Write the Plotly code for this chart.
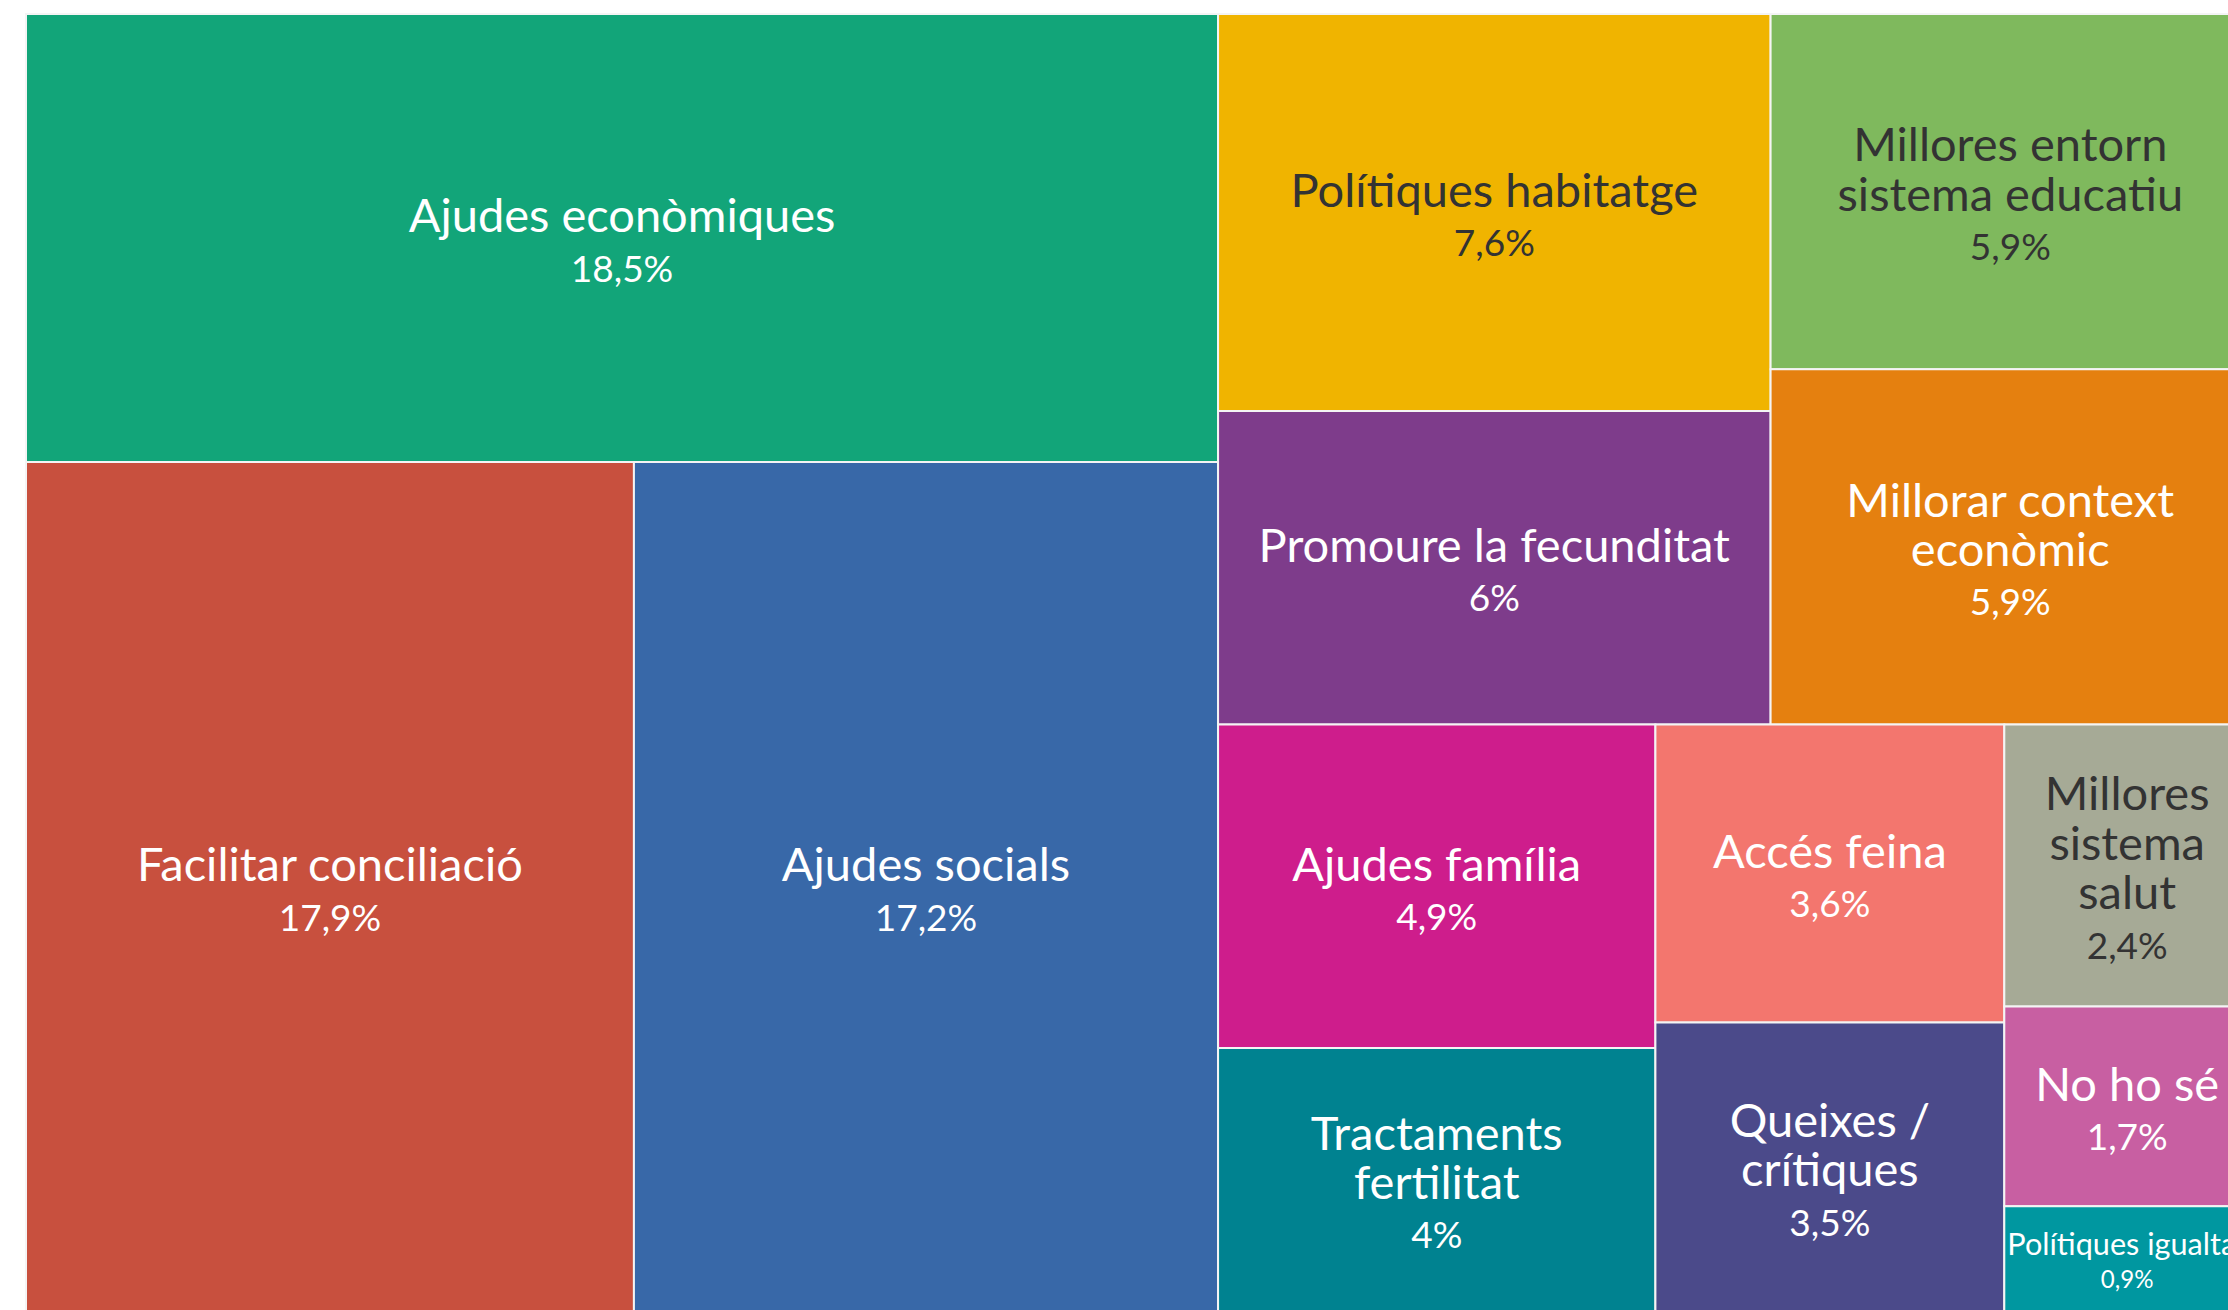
import plotly.graph_objects as go

# ---- data ----
categories = ["Ajudes econòmiques", "Facilitar conciliació", "Ajudes socials",
              "Polítiques habitatge", "Promoure la fecunditat",
              "Millores entorn sistema educatiu", "Millorar context econòmic",
              "Ajudes família", "Tractaments fertilitat",
              "Accés feina", "Queixes / crítiques",
              "Millores sistema salut", "No ho sé", "Polítiques igualtat"]
values = [18.5, 17.9, 17.2, 7.6, 6.0, 5.9, 5.9, 4.9, 4.0, 3.6, 3.5, 2.4, 1.7, 0.9]
display_labels = ["Ajudes econòmiques", "Facilitar conciliació", "Ajudes socials",
                  "Polítiques habitatge", "Promoure la fecunditat",
                  "Millores entorn<br>sistema educatiu", "Millorar context<br>econòmic",
                  "Ajudes família", "Tractaments<br>fertilitat",
                  "Accés feina", "Queixes /<br>crítiques",
                  "Millores<br>sistema<br>salut", "No ho sé", "Polítiques igualtat"]
colors = ["#12A579", "#C8503E", "#3868A8", "#F0B400", "#7E3C8B", "#7FB95D",
          "#E5800F", "#CE1D8C", "#008290", "#F3766E", "#4B4A8A", "#A6AA96",
          "#C85FA2", "#0097A0"]
text_colors = ["white", "white", "white", "#333333", "white", "#333333", "white",
               "white", "white", "white", "white", "#333333", "white", "white"]
# layout grouping (group id -> parent group)
leaf_group = ["L", "LB", "LB", "C1", "C1", "C2", "C2", "C3", "C3", "C4", "C4",
              "C5", "C5", "C5"]
group_ids = ["L", "LB", "R", "RT", "RB", "C1", "C2", "C3", "C4", "C5"]
group_parents = ["", "L", "", "R", "R", "RT", "RT", "RB", "RB", "RB"]
# order in which nodes are listed (controls placement order of siblings)
node_order = ["L", 0, "LB", 1, 2, "R", "RT", "C1", 3, 4, "C2", 5, 6,
              "RB", "C3", 7, 8, "C4", 9, 10, "C5", 11, 12, 13]

ids, parents, vals, texts, mcolors, tcolors = [], [], [], [], [], []
for n in node_order:
    if isinstance(n, str):
        ids.append(n)
        parents.append(group_parents[group_ids.index(n)])
        vals.append(0)
        texts.append("")
        mcolors.append("white")
        tcolors.append("white")
    else:
        ids.append(categories[n])
        parents.append(leaf_group[n])
        vals.append(values[n])
        pct = f"{values[n]:g}".replace(".", ",") + "%"
        texts.append(f'<span style="font-size:47px">{display_labels[n]}</span>'
                     f'<br><span style="font-size:37px">{pct}</span>')
        mcolors.append(colors[n])
        tcolors.append(text_colors[n])

fig = go.Figure(go.Treemap(
    ids=ids, labels=ids, parents=parents, values=vals,
    branchvalues="remainder", sort=False,
    text=texts, textinfo="text", textposition="middle center",
    textfont=dict(family="Lato", size=38, color=tcolors),
    marker=dict(colors=mcolors, line=dict(width=2, color="#F4F4F4"),
                pad=dict(t=0, l=0, r=0, b=0)),
    tiling=dict(packing="slice-dice", pad=0),
    pathbar=dict(visible=False),
    hoverinfo="skip",
))
fig.update_layout(width=2250, height=1312,
                  margin=dict(l=26, r=0, t=14, b=0),
                  paper_bgcolor="white",
                  font=dict(family="Lato"))
fig.write_html(
    "out.html",
    config={"displayModeBar": False},
    post_script=("document.body.style.margin='0';"
                 "document.body.style.overflow='hidden';"
                 "document.documentElement.style.overflow='hidden';"))
